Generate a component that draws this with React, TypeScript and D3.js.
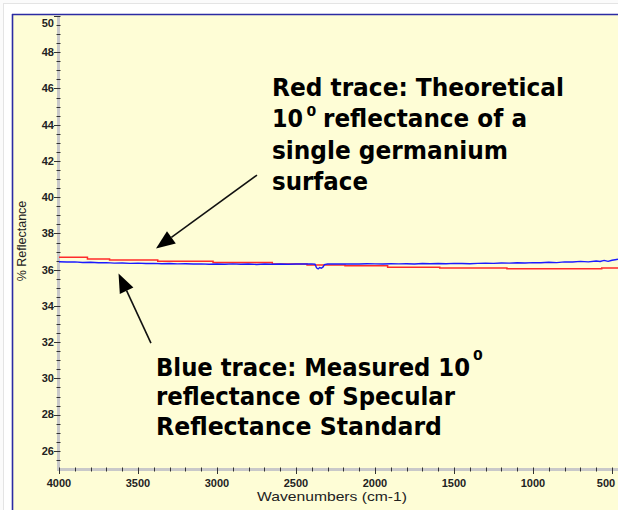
import React, { useEffect, useRef } from 'react';
import * as d3 from 'd3';

// red trace: theoretical reflectance (step changes)
const redWn = [4000, 3820, 3680, 3375, 3025, 2650, 2430, 2190, 1920, 1590, 1165, 565, 462];
const redVal = [36.68, 36.59, 36.53, 36.46, 36.4, 36.31, 36.26, 36.22, 36.13, 36.09, 36.05, 36.09, 36.09];

// blue trace: measured reflectance
const blueWn = [
  4000, 3950, 3900, 3850, 3800, 3750, 3700, 3650, 3600, 3550, 3500, 3450, 3400, 3350, 3300, 3250,
  3200, 3150, 3100, 3050, 3000, 2950, 2900, 2850, 2800, 2750, 2700, 2650, 2600, 2550, 2500, 2450,
  2400, 2380, 2370, 2360, 2350, 2340, 2330, 2320, 2300, 2250, 2200, 2150, 2100, 2050, 2000, 1950,
  1900, 1850, 1800, 1750, 1700, 1650, 1600, 1550, 1500, 1450, 1400, 1350, 1300, 1250, 1200, 1150,
  1100, 1050, 1000, 950, 900, 850, 800, 750, 700, 650, 600, 575, 550, 525, 500, 480, 462,
];
const blueVal = [
  36.44, 36.42, 36.43, 36.4, 36.41, 36.38, 36.39, 36.36, 36.37, 36.35, 36.36, 36.34, 36.35, 36.33, 36.34, 36.32,
  36.33, 36.31, 36.32, 36.3, 36.31, 36.3, 36.32, 36.3, 36.31, 36.29, 36.31, 36.3, 36.31, 36.3, 36.31, 36.31,
  36.32, 36.3, 36.1, 36.04, 36.12, 36.08, 36.14, 36.28, 36.31, 36.32, 36.31, 36.32, 36.31, 36.33, 36.32, 36.31,
  36.33, 36.32, 36.33, 36.31, 36.34, 36.33, 36.34, 36.33, 36.35, 36.34, 36.33, 36.35, 36.36, 36.35, 36.37, 36.36,
  36.38, 36.37, 36.39, 36.38, 36.41, 36.39, 36.43, 36.42, 36.46, 36.43, 36.48, 36.45, 36.51, 36.46, 36.52, 36.55, 36.58,
];

const xTicks = [4000, 3500, 3000, 2500, 2000, 1500, 1000, 500];
const yTicks = [26, 28, 30, 32, 34, 36, 38, 40, 42, 44, 46, 48, 50];

// arrows in data units: [tailWn, tailVal, tipWn, tipVal]
const redArrow = [2747, 41.22, 3386, 37.17];
const blueArrow = [3418, 31.95, 3623, 35.79];

const App = () => {
  const svgRef = useRef(null);

  useEffect(() => {
    const W = 618, H = 510;
    const left = 59, right = 618, top = 16, bottom = 469;

    const svg = d3.select(svgRef.current).attr('width', W).attr('height', H);
    svg.selectAll('*').remove();

    const x = d3.scaleLinear().domain([4000, 462]).range([left, right]);
    const y = d3.scaleLinear().domain([25, 50]).range([bottom, top]);

    // screenshot frame
    svg.append('rect').attr('width', W).attr('height', H).attr('fill', '#fbfbfb');
    svg.append('rect').attr('x', 3.5).attr('y', 3.5).attr('width', W + 20).attr('height', H + 20)
      .attr('fill', '#ffffff').attr('stroke', '#e4e4e4');
    svg.append('rect').attr('x', 12).attr('y', 14).attr('width', W).attr('height', H)
      .attr('fill', '#fefdd6');
    svg.append('line').attr('x1', 12.5).attr('x2', 12.5).attr('y1', 14).attr('y2', H)
      .attr('stroke', '#2b2ba3').attr('stroke-width', 1.6);
    svg.append('line').attr('x1', 12).attr('x2', W).attr('y1', 14.5).attr('y2', 14.5)
      .attr('stroke', '#2b2ba3').attr('stroke-width', 1.6);

    const g = svg.append('g');

    // y axis
    g.append('rect').attr('x', 57).attr('y', top).attr('width', 3).attr('height', bottom - top + 2)
      .attr('fill', '#c9c9c9');
    d3.range(25.5, 50.01, 0.5).forEach(v => {
      const major = yTicks.includes(v);
      g.append('line').attr('x1', major ? 54 : 56.5).attr('x2', 60.5)
        .attr('y1', Math.round(y(v)) + 0.5).attr('y2', Math.round(y(v)) + 0.5)
        .attr('stroke', '#333').attr('stroke-width', 1);
    });
    yTicks.forEach(v => {
      g.append('text').attr('x', 54).attr('y', Math.max(y(v), 23)).attr('dy', '0.35em')
        .attr('text-anchor', 'end').attr('font-family', 'Liberation Sans, Arial, sans-serif')
        .attr('font-weight', 'bold').attr('font-size', 11).attr('fill', '#222').text(v);
    });

    // x axis
    g.append('rect').attr('x', 57).attr('y', bottom - 1).attr('width', right - 57).attr('height', 3)
      .attr('fill', '#c9c9c9');
    d3.range(4000, 461, -100).forEach(v => {
      const major = xTicks.includes(v);
      g.append('line').attr('x1', Math.round(x(v)) + 0.5).attr('x2', Math.round(x(v)) + 0.5)
        .attr('y1', bottom - 1.5).attr('y2', major ? bottom + 5 : bottom + 2.5)
        .attr('stroke', '#333').attr('stroke-width', 1);
    });
    xTicks.forEach(v => {
      g.append('text').attr('x', Math.min(x(v), 606)).attr('y', bottom + 18)
        .attr('text-anchor', 'middle').attr('font-family', 'Liberation Sans, Arial, sans-serif')
        .attr('font-weight', 'bold').attr('font-size', 11).attr('fill', '#222').text(v);
    });

    g.append('text').attr('x', 332).attr('y', 501).attr('text-anchor', 'middle')
      .attr('font-family', 'Liberation Sans, Arial, sans-serif').attr('font-size', 13)
      .attr('textLength', 150).attr('lengthAdjust', 'spacingAndGlyphs')
      .attr('fill', '#222').text('Wavenumbers (cm-1)');
    g.append('text').attr('transform', 'translate(26,241) rotate(-90)').attr('text-anchor', 'middle')
      .attr('font-family', 'Liberation Sans, Arial, sans-serif').attr('font-size', 12.5)
      .attr('fill', '#222').text('% Reflectance');

    // traces
    const redData = redWn.map((w, i) => [w, redVal[i]]);
    const blueData = blueWn.map((w, i) => [w, blueVal[i]]);

    g.append('path').datum(redData)
      .attr('d', d3.line().x(d => x(d[0])).y(d => y(d[1])).curve(d3.curveStepAfter))
      .attr('fill', 'none').attr('stroke', '#ff2a2a').attr('stroke-width', 1.5);
    g.append('path').datum(blueData)
      .attr('d', d3.line().x(d => x(d[0])).y(d => y(d[1])))
      .attr('fill', 'none').attr('stroke', '#1a1aff').attr('stroke-width', 1.4);

    // arrows
    const drawArrow = (a) => {
      const x1 = x(a[0]), y1 = y(a[1]), x2 = x(a[2]), y2 = y(a[3]);
      const ang = Math.atan2(y2 - y1, x2 - x1);
      const len = 19, hw = 7.5;
      const bx = x2 - len * Math.cos(ang), by = y2 - len * Math.sin(ang);
      g.append('line').attr('x1', x1).attr('y1', y1).attr('x2', bx).attr('y2', by)
        .attr('stroke', '#111').attr('stroke-width', 1.6);
      const pts = [
        [x2, y2],
        [bx + hw * Math.sin(ang), by - hw * Math.cos(ang)],
        [bx - hw * Math.sin(ang), by + hw * Math.cos(ang)],
      ];
      g.append('polygon').attr('points', pts.map(p => p.join(',')).join(' ')).attr('fill', '#000');
    };
    drawArrow(redArrow);
    drawArrow(blueArrow);

    // annotation text
    const note = (txt, px, py, len, size = 25) => {
      const t = g.append('text').attr('x', px).attr('y', py)
        .attr('font-family', 'DejaVu Sans, Verdana, sans-serif').attr('font-weight', 'bold')
        .attr('font-size', size).attr('fill', '#000').text(txt);
      if (len) t.attr('textLength', len).attr('lengthAdjust', 'spacingAndGlyphs');
    };
    note('Red trace: Theoretical', 272, 96, 292);
    note('10', 272, 127, 31);
    note('0', 306.5, 116, 0, 14);
    note('reflectance of a', 323, 127, 204);
    note('single germanium', 272, 159, 236);
    note('surface', 272, 190, 96);

    note('Blue trace: Measured 10', 156, 376, 314);
    note('0', 473, 360, 0, 14);
    note('reflectance of Specular', 156, 405, 299);
    note('Reflectance Standard', 156, 435, 286);
  }, []);

  return (
    <React.Fragment>
      <svg ref={svgRef} style={{ position: 'fixed', left: 0, top: 0, display: 'block' }} />
    </React.Fragment>
  );
};

export default App;
